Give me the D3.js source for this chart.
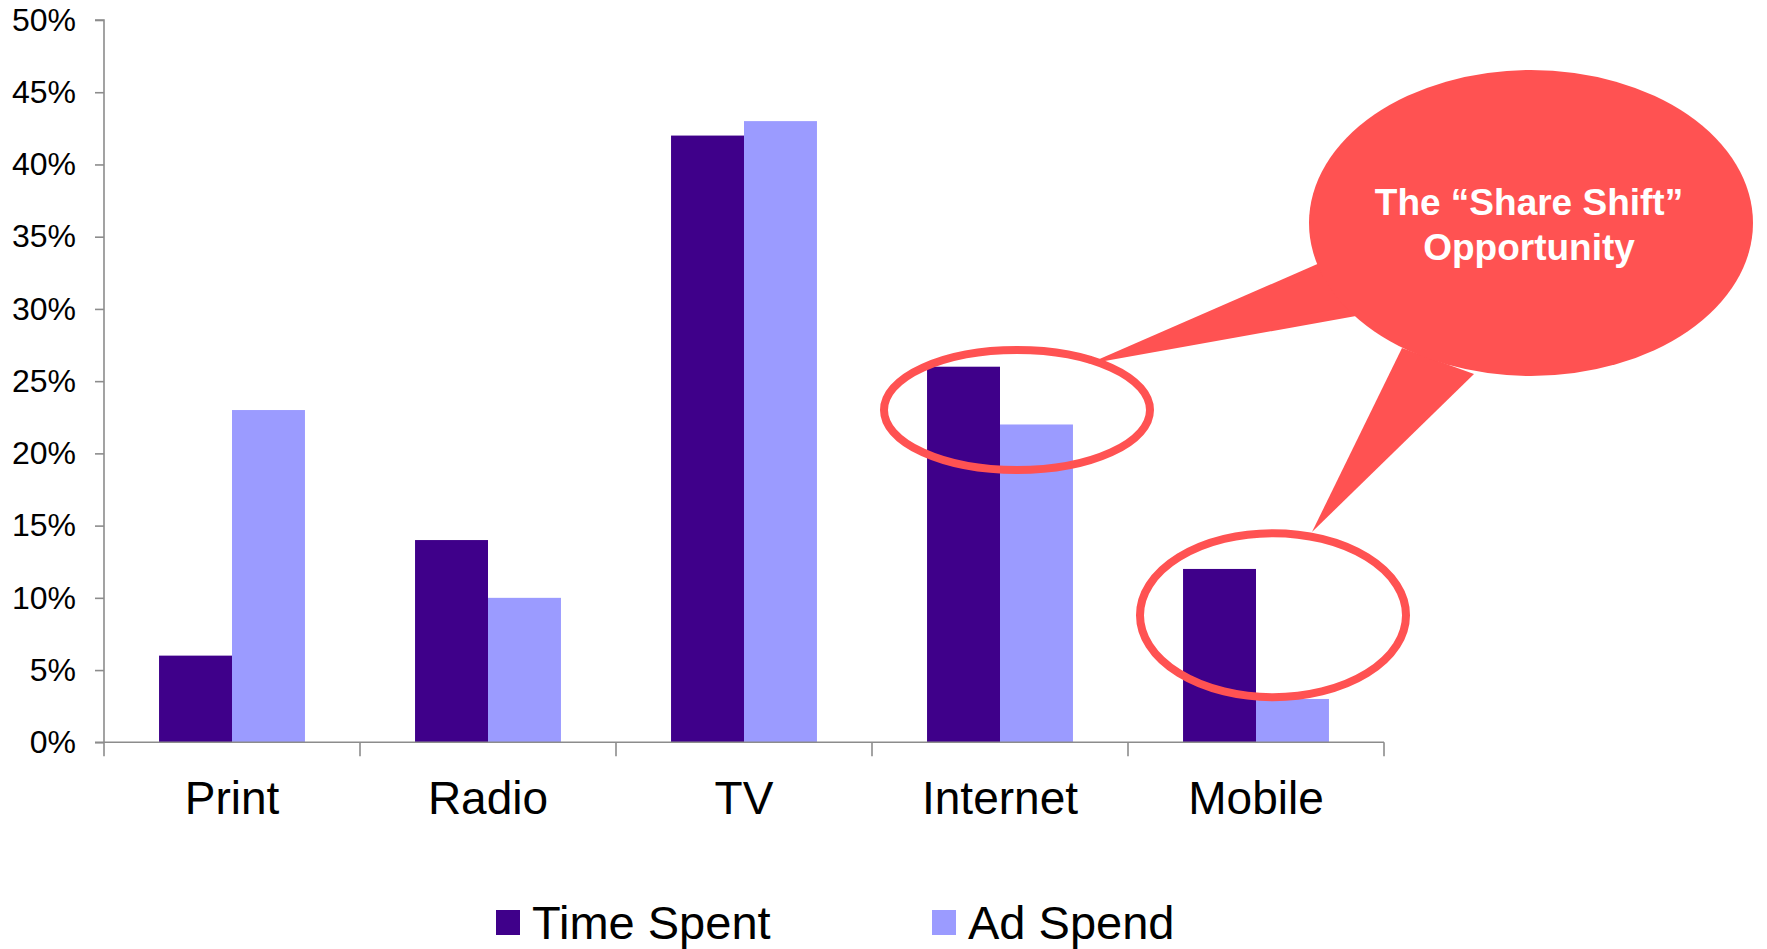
<!DOCTYPE html>
<html>
<head>
<meta charset="utf-8">
<script src="https://cdn.jsdelivr.net/npm/d3@7"></script>
<style>
  html, body { margin: 0; padding: 0; background: #ffffff; }
  svg { display: block; font-family: Arial, "Liberation Sans", Helvetica, sans-serif; }
</style>
</head>
<body>
<svg id="chart" width="1767" height="949"></svg>
<script>
// ---- data ----
const categories = ["Print", "Radio", "TV", "Internet", "Mobile"];
const seriesNames = ["Time Spent", "Ad Spend"];
const timeSpent = [0.06, 0.14, 0.42, 0.26, 0.12];
const adSpend   = [0.23, 0.10, 0.43, 0.22, 0.03];
const yTicks = [0, 0.05, 0.10, 0.15, 0.20, 0.25, 0.30, 0.35, 0.40, 0.45, 0.50];
const calloutLines = ["The \u201CShare Shift\u201D", "Opportunity"];
const highlighted = [
  { cat: "Internet", center: 0.23 },
  { cat: "Mobile", center: 0.088 }
];

(function () {
// ---- styles ----
const colors = ["#3f008a", "#9b9bff"];
const red = "#ff5252";
const axisColor = "#8c8c8c";

const svg = d3.select("#chart");
const pLeft = 104, pRight = 1384, pTop = 20, pBottom = 742.3;

const x0 = d3.scaleBand().domain(categories).range([pLeft, pRight]).padding(0);
const bw = x0.bandwidth();
const x1 = d3.scaleBand().domain(seriesNames).range([bw * 0.215, bw * 0.785]).padding(0);
const y = d3.scaleLinear().domain([0, 0.5]).range([pBottom, pTop]);

const rows = categories.map((c, i) => ({ cat: c, vals: [timeSpent[i], adSpend[i]] }));

// bars
const g = svg.append("g");
g.selectAll("g.grp").data(rows).join("g")
  .attr("class", "grp")
  .attr("transform", d => `translate(${x0(d.cat)},0)`)
  .selectAll("rect").data(d => d.vals.map((v, j) => ({ s: seriesNames[j], v, j })))
  .join("rect")
  .attr("x", d => x1(d.s))
  .attr("width", x1.bandwidth())
  .attr("y", d => y(d.v))
  .attr("height", d => y(0) - y(d.v))
  .attr("fill", d => colors[d.j]);

// y axis
const yAxis = d3.axisLeft(y).tickValues(yTicks).tickFormat(d3.format(".0%")).tickSize(9).tickPadding(19);
const ya = svg.append("g").attr("transform", `translate(${pLeft},0)`).call(yAxis);
ya.select(".domain").attr("stroke", axisColor).attr("stroke-width", 1.6).attr("d", `M-9,${pTop}H0V${pBottom}H-9`);
ya.selectAll(".tick line").attr("stroke", axisColor).attr("stroke-width", 1.6);
ya.selectAll(".tick text").attr("fill", "#000").attr("font-size", 32)
  .attr("font-family", "Arial, 'Liberation Sans', sans-serif");

// x axis
const edges = categories.map(c => x0(c)).concat([x0(categories[categories.length - 1]) + bw]);
const xa = svg.append("g");
xa.append("line").attr("x1", pLeft).attr("x2", pRight).attr("y1", y(0)).attr("y2", y(0))
  .attr("stroke", axisColor).attr("stroke-width", 1.6);
xa.selectAll("line.tk").data(edges).join("line").attr("class", "tk")
  .attr("x1", d => d).attr("x2", d => d).attr("y1", y(0)).attr("y2", y(0) + 14)
  .attr("stroke", axisColor).attr("stroke-width", 1.6);
xa.selectAll("text").data(categories).join("text")
  .attr("x", d => x0(d) + bw / 2).attr("y", 814)
  .attr("text-anchor", "middle").attr("font-size", 46).attr("fill", "#000")
  .text(d => d);

// highlight rings
svg.selectAll("ellipse.ring").data(highlighted).join("ellipse")
  .attr("class", "ring")
  .attr("cx", d => x0(d.cat) + bw / 2 + 17)
  .attr("cy", d => y(d.center))
  .attr("rx", 133)
  .attr("ry", (d, i) => i === 0 ? 60 : 82)
  .attr("fill", "none").attr("stroke", red).attr("stroke-width", 8);

// callout bubble
const co = svg.append("g");
co.append("polygon").attr("points", "1322,262 1088,364 1356,316").attr("fill", red);
co.append("polygon").attr("points", "1402,348 1312,532 1474,374").attr("fill", red);
co.append("ellipse").attr("cx", 1531).attr("cy", 223).attr("rx", 222).attr("ry", 153).attr("fill", red);
co.selectAll("text").data(calloutLines).join("text")
  .attr("x", 1529).attr("y", (d, i) => 215 + i * 45)
  .attr("text-anchor", "middle").attr("font-size", 37).attr("font-weight", "bold")
  .attr("fill", "#ffffff").text(d => d);

// legend
const legendX = [496, 932];
const lg = svg.selectAll("g.lg").data(seriesNames).join("g").attr("class", "lg")
  .attr("transform", (d, i) => `translate(${legendX[i]},0)`);
lg.append("rect").attr("x", 0).attr("y", 910).attr("width", 24).attr("height", 25)
  .attr("fill", (d, i) => colors[i]);
lg.append("text").attr("x", 36).attr("y", 939).attr("font-size", 47).attr("fill", "#000").text(d => d);
})();
</script>
</body>
</html>
